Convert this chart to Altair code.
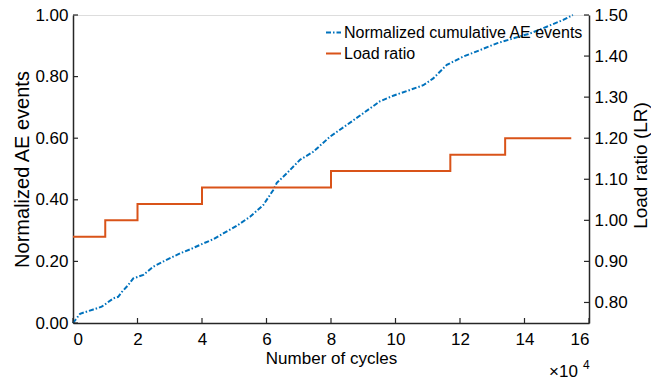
import altair as alt
import pandas as pd

# ---- data ----
cycles_ae = [0, 2200, 6300, 8900, 10400, 12500, 14000, 15100, 17100, 18700, 21800,
             24900, 29000, 33200, 36300, 39900, 43500, 46600, 50700, 54900, 59000,
             62100, 63200, 66300, 70400, 74500, 79700, 84900, 90000, 95200, 99300,
             103500, 108600, 111700, 115900, 121000, 126200, 131400, 136500, 141700,
             146900, 152000, 155000]
ae_norm = [0.0, 0.03, 0.044, 0.053, 0.064, 0.08, 0.085, 0.10, 0.123, 0.145, 0.156,
           0.183, 0.205, 0.226, 0.239, 0.256, 0.272, 0.291, 0.315, 0.345, 0.383,
           0.432, 0.455, 0.486, 0.53, 0.556, 0.605, 0.643, 0.681, 0.72, 0.738,
           0.753, 0.772, 0.794, 0.838, 0.865, 0.886, 0.908, 0.924, 0.94,
           0.962, 0.984, 1.0]

cycles_lr = [0, 10000, 20000, 40000, 80000, 117000, 134000, 154500]
load_ratio = [0.96, 1.00, 1.04, 1.08, 1.12, 1.16, 1.20, 1.20]

x_ticks = [0, 20000, 40000, 60000, 80000, 100000, 120000, 140000, 160000]
left_ticks = [0.0, 0.2, 0.4, 0.6, 0.8, 1.0]
right_ticks = [0.8, 0.9, 1.0, 1.1, 1.2, 1.3, 1.4, 1.5]

S_AE = "Normalized cumulative AE events"
S_LR = "Load ratio"

BLUE = "#0072BD"
ORANGE = "#D95319"
AXC = "#262626"
FONT = "Liberation Sans"

W, H = 516, 308

df_ae = pd.DataFrame({"cycles": cycles_ae, "val": ae_norm, "series": S_AE})
df_lr = pd.DataFrame({"cycles": cycles_lr, "val": load_ratio, "series": S_LR})

x_scale = alt.Scale(domain=[0, 160000], nice=False, zero=False)
yl_scale = alt.Scale(domain=[0, 1], nice=False)
yr_scale = alt.Scale(domain=[0.75, 1.5], nice=False, zero=False)

legend = alt.Legend(
    title=None, orient="none", legendX=252, legendY=9,
    symbolType="stroke", symbolSize=225, symbolStrokeWidth=2,
    labelFont=FONT, labelFontSize=16, labelColor="black",
    labelOffset=2, rowPadding=4, padding=0, labelLimit=400,
)
color = alt.Color("series:N",
                  scale=alt.Scale(domain=[S_AE, S_LR], range=[BLUE, ORANGE]),
                  legend=legend)
dash = alt.StrokeDash("series:N",
                      scale=alt.Scale(domain=[S_AE, S_LR],
                                      range=[[5, 2, 1.5, 2], [1, 0]]),
                      legend=legend)

x_axis = alt.Axis(
    values=x_ticks, labelExpr="datum.value / 10000", title="Number of cycles",
    ticks=False, grid=False, domainColor=AXC, domainWidth=1.5,
    labelFont=FONT, labelFontSize=17, labelColor="black", labelPadding=8,
    titleFont=FONT, titleFontSize=17, titleFontWeight="normal", titleColor="black",
    titlePadding=3,
)

ae_line = alt.Chart(df_ae).mark_line(strokeWidth=2).encode(
    x=alt.X("cycles:Q", scale=x_scale, axis=x_axis),
    y=alt.Y("val:Q", scale=yl_scale, axis=alt.Axis(
        values=left_ticks, format=".2f", title="Normalized AE events",
        ticks=False, grid=False, domainColor=AXC, domainWidth=1.5,
        labelFont=FONT, labelFontSize=17, labelColor="black", labelPadding=5,
        titleFont=FONT, titleFontSize=20, titleFontWeight="normal",
        titleColor="black", titlePadding=2)),
    color=color,
    strokeDash=dash,
)

xt = alt.Chart(pd.DataFrame({"t": x_ticks})).mark_rule(color=AXC, strokeWidth=1.2).encode(
    x=alt.X("t:Q", scale=x_scale), y=alt.value(H), y2=alt.value(H - 5))
ylt = alt.Chart(pd.DataFrame({"t": left_ticks})).mark_rule(color=AXC, strokeWidth=1.2).encode(
    y=alt.Y("t:Q", scale=yl_scale), x=alt.value(0), x2=alt.value(5))

left = alt.layer(ae_line, xt, ylt)

lr_line = alt.Chart(df_lr).mark_line(strokeWidth=2, interpolate="step-after").encode(
    x=alt.X("cycles:Q", scale=x_scale),
    y=alt.Y("val:Q", scale=yr_scale, axis=alt.Axis(
        orient="right", values=right_ticks, format=".2f", title="Load ratio (LR)",
        ticks=False, grid=False, domainColor=AXC, domainWidth=1.5,
        labelFont=FONT, labelFontSize=17, labelColor="black", labelPadding=5,
        titleFont=FONT, titleFontSize=19, titleFontWeight="normal",
        titleColor="black", titleAngle=270, titleX=51, titleY=150,
        titleAlign="center", titleBaseline="middle")),
    color=color,
    strokeDash=dash,
)
yrt = alt.Chart(pd.DataFrame({"t": right_ticks})).mark_rule(color=AXC, strokeWidth=1.2).encode(
    y=alt.Y("t:Q", scale=yr_scale), x=alt.value(W), x2=alt.value(W - 5))

right = alt.layer(lr_line, yrt)

exp_base = alt.Chart(pd.DataFrame({"s": ["\u00d710"]})).mark_text(
    font=FONT, fontSize=17, align="left", baseline="alphabetic", color="black"
).encode(text="s:N", x=alt.value(476), y=alt.value(H + 54))
exp_sup = alt.Chart(pd.DataFrame({"s": ["4"]})).mark_text(
    font=FONT, fontSize=12, align="left", baseline="alphabetic", color="black"
).encode(text="s:N", x=alt.value(510), y=alt.value(H + 46))

chart = alt.layer(left, right, exp_base, exp_sup).resolve_scale(
    y="independent"
).properties(
    width=W, height=H,
    autosize=alt.AutoSizeParams(type="none"),
    padding={"left": 73, "top": 15, "right": 62, "bottom": 57},
).configure_view(stroke=None).configure(background="white")

chart.save("out.html", embed_options={"renderer": "svg", "actions": False})
